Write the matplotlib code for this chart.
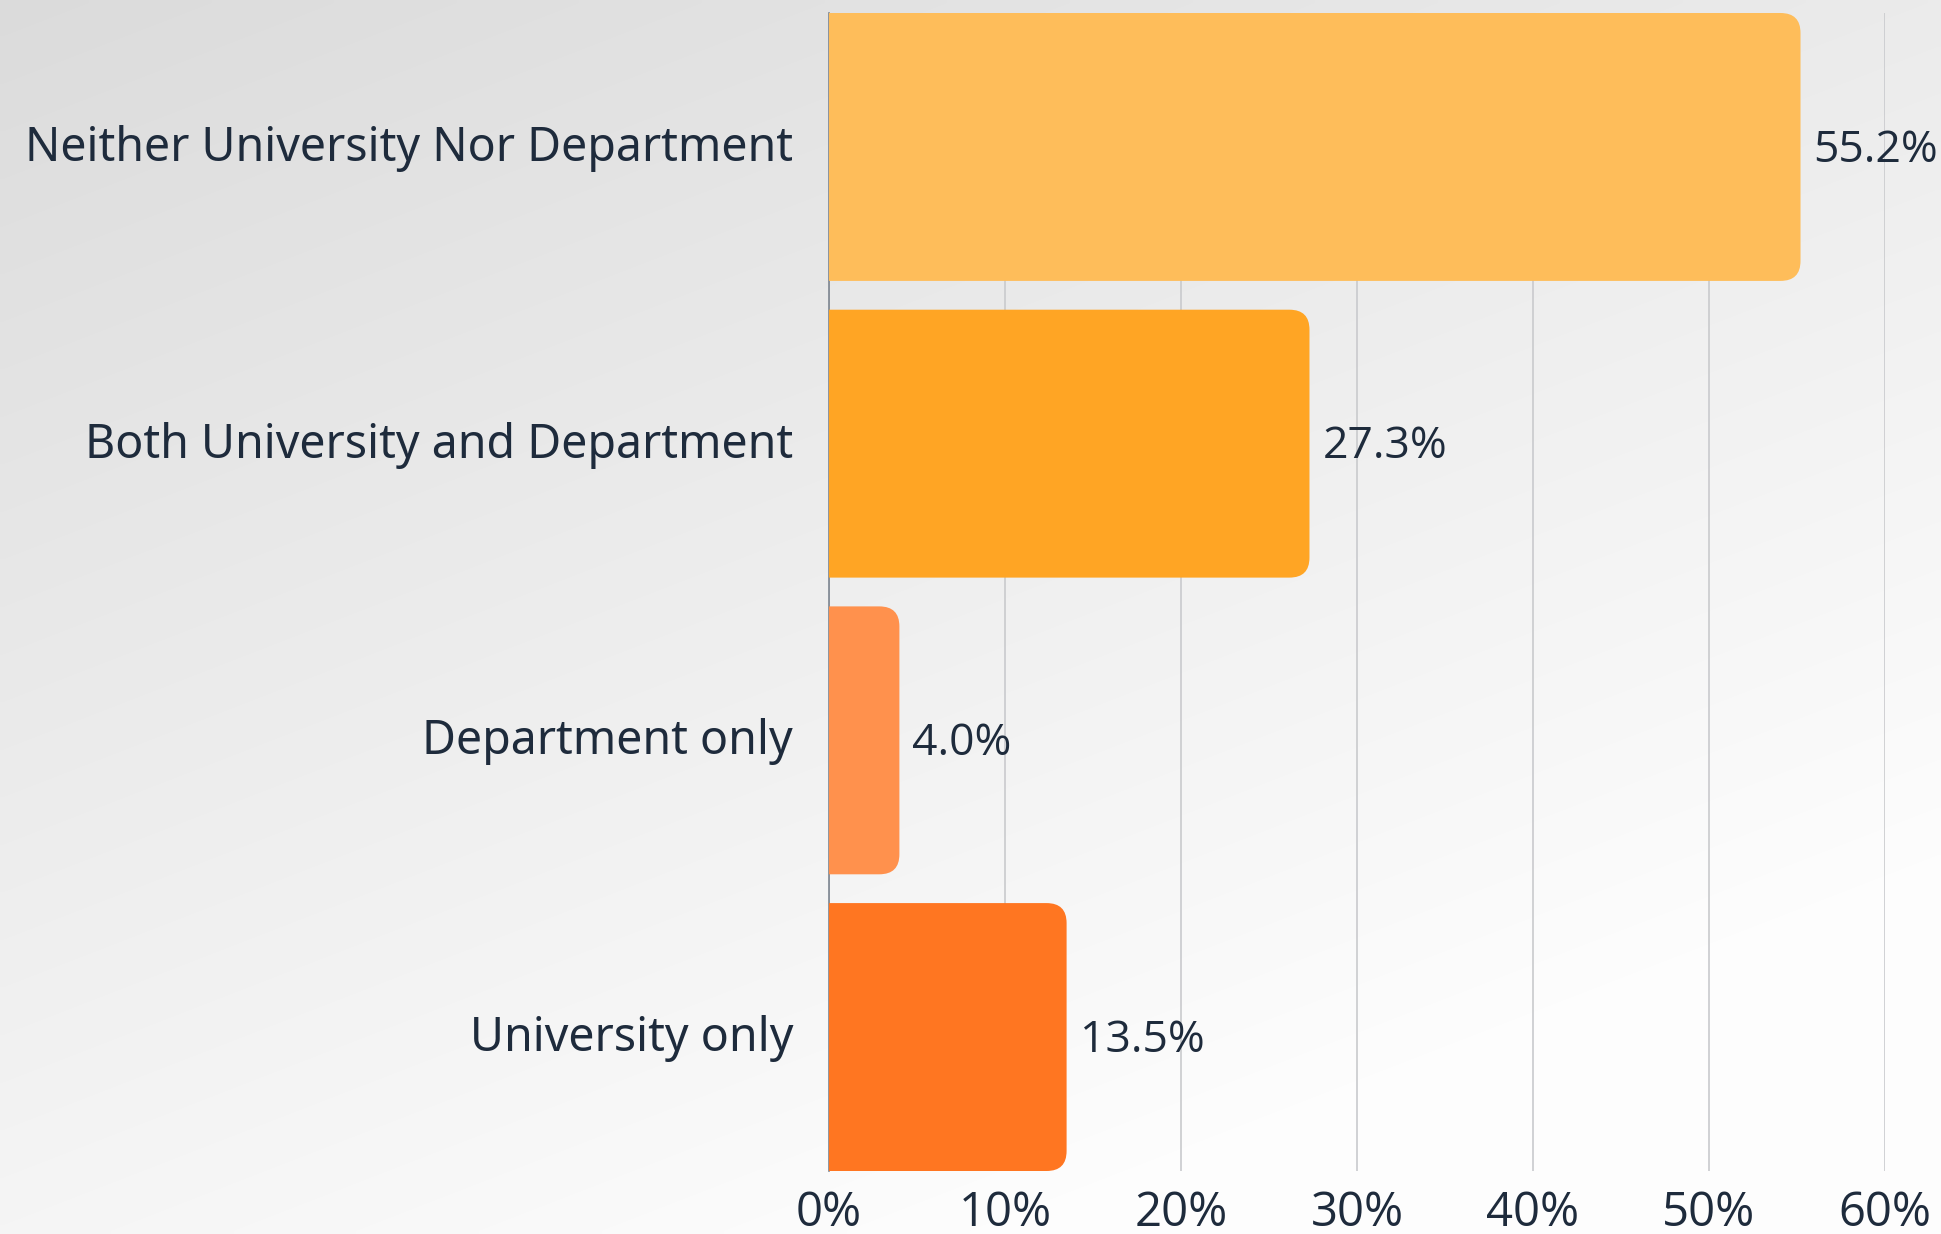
import matplotlib
matplotlib.use("Agg")
import matplotlib.pyplot as plt
import numpy as np
from matplotlib.patches import FancyBboxPatch

categories = ["Neither University Nor Department", "Both University and Department",
              "Department only", "University only"]
values = [55.2, 27.3, 4.0, 13.5]
colors = ["#FEBD5A", "#FFA524", "#FF914D", "#FF7621"]
xticks = [0, 10, 20, 30, 40, 50, 60]
xticklabels = ["0%", "10%", "20%", "30%", "40%", "50%", "60%"]

W, H = 1941, 1234
DPI = 100
TEXT = "#1E2B3C"
FONT = "Open Sans"

fig = plt.figure(figsize=(W / DPI, H / DPI), dpi=DPI)

# background gradient
bg = fig.add_axes([0, 0, 1, 1], zorder=-10)
yy, xx = np.mgrid[0:1:200j, 0:1:300j]
t = np.clip((xx * 0.55 + yy * 0.9) / 1.2, 0, 1)
g = 0.86 + (0.995 - 0.86) * t
img = np.dstack([g, g, g])
bg.imshow(img, aspect="auto", extent=[0, 1, 0, 1], origin="upper", interpolation="bilinear")
bg.set_axis_off()

ax = fig.add_axes([829 / W, 1 - 1171 / H, (1885 - 829) / W, (1171 - 13) / H])
ax.patch.set_alpha(0)

ypos = np.arange(len(categories))[::-1]
bw = 0.903
bars = ax.barh(ypos, values, height=bw, color="none", edgecolor="none")

ax.set_xlim(0, 60)
ax.set_ylim(-bw / 2, 3 + bw / 2)

# rounded right ends (in pixel space ~20px radius)
px_per_x = (1885 - 829) / 60
px_per_y = (1171 - 13) / (3 + bw)
r_x = 20 / px_per_x
aspect = (20 / px_per_y) / r_x
for rect, c in zip(bars, colors):
    x0 = -5
    w = rect.get_width() - x0
    p = FancyBboxPatch((x0, rect.get_y()), w, rect.get_height(),
                       boxstyle=f"round,pad=0,rounding_size={r_x}",
                       mutation_aspect=aspect, facecolor=c, edgecolor="none", zorder=3)
    ax.add_patch(p)
    ax.text(rect.get_width() + 13 / px_per_x, rect.get_y() + rect.get_height() / 2 - 0.012,
            f"{rect.get_width():.1f}%", va="center", ha="left", fontsize=32,
            color=TEXT, family=FONT, zorder=4)

ax.set_xticks(xticks)
ax.set_xticklabels(xticklabels, fontsize=34, color=TEXT, family=FONT)
ax.set_yticks(ypos)
ax.set_yticklabels([])
ytr = ax.get_yaxis_transform()
for yv, lab in zip(ypos, categories):
    ax.text(-36 / (1885 - 829), yv + 0.013, lab, transform=ytr, ha="right",
            va="center_baseline", fontsize=33.5, color=TEXT, family="Noto Sans")
ax.tick_params(axis="x", length=0, pad=13)
ax.tick_params(axis="y", length=0)

ax.grid(axis="x", color="#C9CACD", linewidth=1.2, zorder=0)
ax.set_axisbelow(True)
for s in ["top", "right", "bottom"]:
    ax.spines[s].set_visible(False)
ax.spines["left"].set_color("#7D8590")
ax.spines["left"].set_linewidth(1.2)
ax.spines["left"].set_zorder(1)

fig.savefig("out.png", dpi=DPI)
